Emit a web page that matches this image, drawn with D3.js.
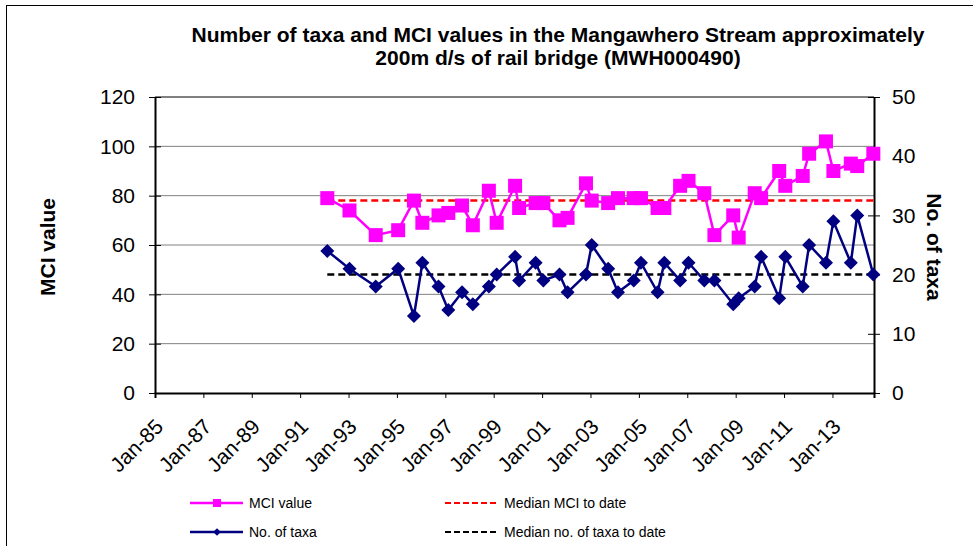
<!DOCTYPE html>
<html>
<head>
<meta charset="utf-8">
<script src="https://cdn.jsdelivr.net/npm/d3@7"></script>
<style>
  body { margin: 0; background: #fff; }
  text { font-family: "Liberation Sans", Arial, sans-serif; fill: #000; }
</style>
</head>
<body>
<script>
// sampling dates
const sampleDates = [
  "1992-02-15", "1993-01-15", "1994-02-15", "1995-01-20", "1995-09-15",
  "1996-01-20", "1996-09-20", "1997-02-15", "1997-09-10", "1998-02-20",
  "1998-10-20", "1999-02-15", "1999-11-20", "2000-01-20", "2000-09-25",
  "2001-01-20", "2001-09-20", "2002-01-20", "2002-10-25", "2003-01-20",
  "2003-09-25", "2004-02-20", "2004-10-15", "2005-02-01", "2005-10-10",
  "2006-01-20", "2006-09-15", "2007-01-20", "2007-09-15", "2008-02-15",
  "2008-11-25", "2009-02-15", "2009-10-15", "2010-01-20", "2010-10-20",
  "2011-01-20", "2011-10-10", "2012-01-15", "2012-09-25", "2013-01-15",
  "2013-10-05", "2014-01-10", "2014-09-10"
];
const mciValues = [
  79, 74, 64, 66, 78, 69, 72, 73, 76, 68,
  82, 69, 84, 75, 77, 77, 70, 71, 85, 78,
  77, 79, 79, 79, 75, 75, 84, 86, 81, 64,
  72, 63, 81, 79, 90, 84, 88, 97, 102, 90,
  93, 92, 97
];
const taxaValues = [
  24, 21, 18, 21, 13, 22, 18, 14, 17, 15,
  18, 20, 23, 19, 22, 19, 20, 17, 20, 25,
  21, 17, 19, 22, 17, 22, 19, 22, 19, 19,
  15, 16, 18, 23, 16, 23, 18, 25, 22, 29,
  22, 30, 20
];
const medianMci = 78;
const medianTaxa = 20;
const tickYears = [1985, 1987, 1989, 1991, 1993, 1995, 1997, 1999, 2001, 2003, 2005, 2007, 2009, 2011, 2013];
const mciTicks = [0, 20, 40, 60, 80, 100, 120];
const taxaTicks = [0, 10, 20, 30, 40, 50];

const parseDate = d3.timeParse("%Y-%m-%d");
const data = sampleDates.map(function(d, i) {
  return {date: parseDate(d), mci: mciValues[i], taxa: taxaValues[i]};
});

// set the dimensions and margins of the graph
const margin = {top: 97, right: 99, bottom: 153, left: 155},
    width = 973 - margin.left - margin.right,
    height = 546 - margin.top - margin.bottom;

const root = d3.select("body")
  .append("svg")
    .attr("width", 973)
    .attr("height", 546);

// chart border
root.append("rect")
  .attr("x", 6.5).attr("y", 5.5)
  .attr("width", 1000).attr("height", 600)
  .attr("fill", "none").attr("stroke", "#000").attr("stroke-width", 1);

const svg = root.append("g")
  .attr("transform", "translate(" + margin.left + "," + margin.top + ")");

const x = d3.scaleTime()
  .domain([new Date(1985, 0, 1), new Date(2014, 8, 20)])
  .range([0, width]);
const y = d3.scaleLinear().domain([0, 120]).range([height, 0]);
const y2 = d3.scaleLinear().domain([0, 50]).range([height, 0]);

// gridlines
svg.selectAll("grid")
  .data(mciTicks.filter(function(d) { return d > 0; }))
  .enter()
  .append("line")
    .attr("x1", 0).attr("x2", width)
    .attr("y1", function(d) { return y(d); })
    .attr("y2", function(d) { return y(d); })
    .attr("stroke", "#808080")
    .attr("stroke-width", function(d) { return d === 120 ? 2 : 1; });

// x axis
const xAxis = svg.append("g")
  .attr("transform", "translate(0," + height + ")")
  .call(d3.axisBottom(x)
    .tickValues(tickYears.map(function(yr) { return new Date(yr, 0, 1); }))
    .tickFormat(d3.timeFormat("%b-%y"))
    .tickSizeOuter(0)
    .tickSize(5));
xAxis.select(".domain").attr("stroke-width", 2);
xAxis.selectAll("text")
  .attr("y", 0).attr("dy", 0)
  .attr("transform", "translate(9,35) rotate(-45)")
  .style("text-anchor", "end")
  .style("font-size", "21px");

// left axis
const yAxis = svg.append("g")
  .call(d3.axisLeft(y).tickValues(mciTicks).tickSize(6).tickSizeOuter(0).tickPadding(14));
yAxis.select(".domain").attr("stroke-width", 2);
yAxis.selectAll(".tick line").attr("x1", 6);
yAxis.selectAll("text").style("font-size", "21px");

// right axis
const y2Axis = svg.append("g")
  .attr("transform", "translate(" + width + ",0)")
  .call(d3.axisRight(y2).tickValues(taxaTicks).tickSize(6).tickSizeOuter(0).tickPadding(12));
y2Axis.select(".domain").attr("stroke-width", 2);
y2Axis.selectAll(".tick line").attr("x1", -6);
y2Axis.selectAll("text").style("font-size", "21px");

// median lines
const first = data[0].date, last = data[data.length - 1].date;
svg.append("line")
  .attr("x1", x(first)).attr("x2", x(last))
  .attr("y1", y(medianMci)).attr("y2", y(medianMci))
  .attr("stroke", "#ff0000").attr("stroke-width", 2.5)
  .attr("stroke-dasharray", "7,4");
svg.append("line")
  .attr("x1", x(first)).attr("x2", x(last))
  .attr("y1", y2(medianTaxa)).attr("y2", y2(medianTaxa))
  .attr("stroke", "#000").attr("stroke-width", 2.5)
  .attr("stroke-dasharray", "7,4");

// taxa line
svg.append("path")
  .datum(data)
  .attr("fill", "none")
  .attr("stroke", "#000080")
  .attr("stroke-width", 2.5)
  .attr("d", d3.line()
    .x(function(d) { return x(d.date); })
    .y(function(d) { return y2(d.taxa); }));
svg.selectAll("taxaPoint")
  .data(data)
  .enter()
  .append("path")
    .attr("d", d3.symbol().type(d3.symbolSquare).size(98))
    .attr("transform", function(d) {
      return "translate(" + x(d.date) + "," + y2(d.taxa) + ") rotate(45)";
    })
    .attr("fill", "#000080");

// MCI line
svg.append("path")
  .datum(data)
  .attr("fill", "none")
  .attr("stroke", "#ff00ff")
  .attr("stroke-width", 2.5)
  .attr("d", d3.line()
    .x(function(d) { return x(d.date); })
    .y(function(d) { return y(d.mci); }));
svg.selectAll("mciPoint")
  .data(data)
  .enter()
  .append("rect")
    .attr("x", function(d) { return x(d.date) - 7; })
    .attr("y", function(d) { return y(d.mci) - 7; })
    .attr("width", 14).attr("height", 14)
    .attr("fill", "#ff00ff");

// title
const title = root.append("text")
  .attr("text-anchor", "middle")
  .style("font-size", "21px")
  .style("font-weight", "bold");
title.append("tspan").attr("x", 558).attr("y", 42)
  .text("Number of taxa and MCI values in the Mangawhero Stream approximately");
title.append("tspan").attr("x", 558).attr("y", 65)
  .text("200m d/s of rail bridge (MWH000490)");

// axis titles
root.append("text")
  .attr("transform", "translate(55,247) rotate(-90)")
  .attr("text-anchor", "middle")
  .style("font-size", "21px").style("font-weight", "bold")
  .text("MCI value");
root.append("text")
  .attr("transform", "translate(927,247) rotate(90)")
  .attr("text-anchor", "middle")
  .style("font-size", "21px").style("font-weight", "bold")
  .text("No. of taxa");

// legend
const legend = root.append("g").style("font-size", "14px");
function legendItem(lx, ly, color, dashed, marker, label) {
  legend.append("line")
    .attr("x1", lx).attr("x2", lx + 53)
    .attr("y1", ly).attr("y2", ly)
    .attr("stroke", color).attr("stroke-width", dashed ? 2 : 2.5)
    .attr("stroke-dasharray", dashed ? "6,3" : null);
  if (marker === "square") {
    legend.append("rect")
      .attr("x", lx + 23).attr("y", ly - 4)
      .attr("width", 8).attr("height", 8).attr("fill", color);
  } else if (marker === "diamond") {
    legend.append("path")
      .attr("d", d3.symbol().type(d3.symbolSquare).size(30))
      .attr("transform", "translate(" + (lx + 27) + "," + ly + ") rotate(45)")
      .attr("fill", color);
  }
  legend.append("text")
    .attr("x", lx + 59).attr("y", ly + 5)
    .text(label);
}
legendItem(190, 503, "#ff00ff", false, "square", "MCI value");
legendItem(190, 532, "#000080", false, "diamond", "No. of taxa");
legendItem(445, 503, "#ff0000", true, null, "Median MCI to date");
legendItem(445, 532, "#000000", true, null, "Median no. of taxa to date");
</script>
</body>
</html>
